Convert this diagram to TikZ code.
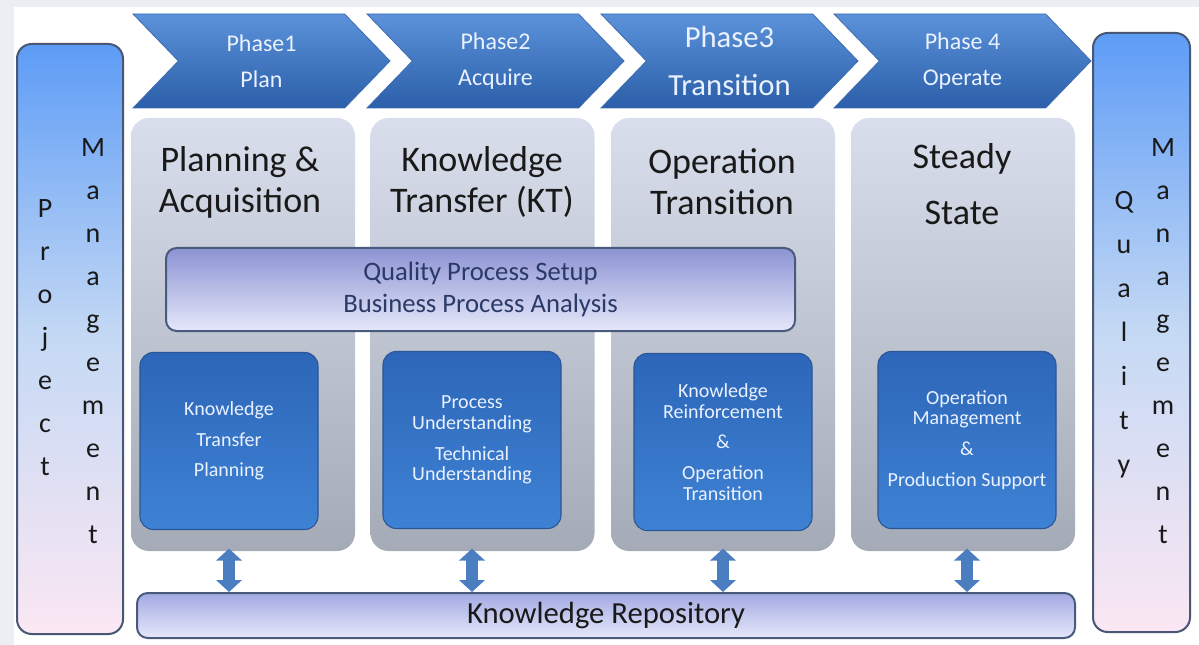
\documentclass[tikz,border=0pt]{standalone}
\usepackage{fontspec}
\setmainfont{Carlito}
\usetikzlibrary{shapes.symbols,arrows.meta}
\definecolor{bgGray}{HTML}{EDEDF4}
\definecolor{phaseTop}{HTML}{5B92DA}
\definecolor{phaseBot}{HTML}{2B5FA9}
\definecolor{phaseLine}{HTML}{3C6CB0}
\definecolor{phaseText}{HTML}{EAF1FF}
\definecolor{barTop}{HTML}{5D9CF6}
\definecolor{barMid}{HTML}{C5D9F4}
\definecolor{barBot}{HTML}{FBE7F3}
\definecolor{barLine}{HTML}{4A5774}
\definecolor{panelTop}{HTML}{D8DEEB}
\definecolor{panelBot}{HTML}{A4AAB6}
\definecolor{qualTop}{HTML}{8C93D3}
\definecolor{qualBot}{HTML}{E5E8FA}
\definecolor{qualLine}{HTML}{4A5A7C}
\definecolor{qualText}{HTML}{2B3A66}
\definecolor{blueTop}{HTML}{2D66B8}
\definecolor{blueBot}{HTML}{3E82D4}
\definecolor{blueLine}{HTML}{2A5596}
\definecolor{arrowBlue}{HTML}{4A7EC1}
\definecolor{repoTop}{HTML}{A3A9E3}
\definecolor{repoBot}{HTML}{E6E9F9}
\begin{document}
\begin{tikzpicture}[x=0.75pt,y=0.75pt,yscale=-1,xscale=1,
  phasebox/.style={signal, signal from=west, signal to=east, signal pointer angle=92,
    minimum width=192.75pt, minimum height=70.5pt, inner sep=0pt,
    top color=phaseTop, bottom color=phaseBot, draw=phaseLine, line width=0.6pt,
    text=phaseText, align=center, font=\fontsize{18}{27}\selectfont},
  mgmtbar/.style={rounded corners=11pt, draw=barLine, line width=1.5pt,
    top color=barTop, bottom color=barBot, middle color=barMid},
  vletters/.style={align=center, text=black!90, font=\fontsize{21}{32.25}\selectfont},
  panel/.style={rounded corners=13.5pt, minimum width=168pt, minimum height=324.75pt,
    top color=panelTop, bottom color=panelBot},
  paneltitle/.style={align=center, text=black!90, font=\fontsize{27}{30.75}\selectfont},
  bluebox/.style={rounded corners=10pt, minimum width=133.5pt, minimum height=132.75pt,
    top color=blueTop, bottom color=blueBot, draw=blueLine, line width=0.8pt,
    text=phaseText, align=center, font=\fontsize{15}{15.5}\selectfont},
  lavbar/.style={rounded corners=8pt, draw=qualLine, line width=1.5pt,
    top color=#1, bottom color=qualBot},
  kbarrow/.style={line width=9pt, color=arrowBlue,
    {Triangle[width=19pt,length=9pt]}-{Triangle[width=19pt,length=9pt]}}
]
%uncomment if require: \path (0,645); %set diagram left start at 0, and has height of 645
\useasboundingbox (0,0) rectangle (1199,645);
% Background
\fill[bgGray] (0,0) rectangle (1199,645);
\fill[white] (14,7) rectangle (1199,645);

% Side bars
\node[mgmtbar, minimum width=79.5pt, minimum height=442.5pt] (pm) at (70,339) {};
\node[vletters] (pmp) at (45,338) {P\\r\\o\\j\\e\\c\\t};
\node[vletters] (pmm) at (93,341) {M\\a\\n\\a\\g\\e\\m\\e\\n\\t};
\node[mgmtbar, minimum width=72.75pt, minimum height=449.25pt] (qm) at (1141.5,332.5) {};
\node[vletters, font=\fontsize{21}{33}\selectfont] (qmq) at (1124,335) {Q\\u\\a\\l\\i\\t\\y};
\node[vletters] (qmm) at (1163,341) {M\\a\\n\\a\\g\\e\\m\\e\\n\\t};

% Phase chevrons
\node[phasebox] (ph1) at (261.5,61) {Phase1\\Plan};
\node[phasebox] (ph2) at (495.5,61) {Phase2\\Acquire};
\node[phasebox, font=\fontsize{23}{36}\selectfont] (ph3) at (729.5,61) {Phase3\\Transition};
\node[phasebox] (ph4) at (962.5,61) {Phase 4\\Operate};

% Column panels
\node[panel] (p1) at (243,334.5) {};
\node[panel] (p2) at (482.5,334.5) {};
\node[panel] (p3) at (723,334.5) {};
\node[panel] (p4) at (963,334.5) {};
% Text Node
\node[paneltitle] (t1) at (240,182) {Planning \&\\Acquisition};
\node[paneltitle] (t2) at (482,182) {Knowledge\\Transfer (KT)};
\node[paneltitle] (t3) at (722,182) {Operation\\Transition};
\node[paneltitle, font=\fontsize{27}{42}\selectfont] (t4) at (962,184) {Steady\\State};

% Quality box
\node[lavbar=qualTop, minimum width=471.75pt, minimum height=62.25pt,
  text=qualText, align=center, font=\fontsize{20}{24}\selectfont] (qps) at (480.5,289.5)
  {Quality Process Setup\\Business Process Analysis};

% Blue boxes
\node[bluebox] (b1) at (229,441) {Knowledge\\[7.5pt]Transfer\\[7.5pt]Planning};
\node[bluebox] (b2) at (472,440) {Process\\Understanding\\[7.5pt]Technical\\Understanding};
\node[bluebox] (b3) at (723,442) {Knowledge\\Reinforcement\\[7.5pt]\&\\[7.5pt]Operation\\Transition};
\node[bluebox] (b4) at (967,440) {Operation\\Management\\[7.5pt]\&\\[7.5pt]Production Support};

% Knowledge repository
\node[lavbar=repoTop, minimum width=703.5pt, minimum height=33.75pt,
  text=black!90, font=\fontsize{23}{28}\selectfont] (repo) at (606,615.5) {Knowledge Repository};

% Double arrows
\draw[kbarrow] ([yshift=-2pt]b1.south |- p1.south) -- (b1.south |- repo.north);
\draw[kbarrow] ([yshift=-2pt]b2.south |- p2.south) -- (b2.south |- repo.north);
\draw[kbarrow] ([yshift=-2pt]b3.south |- p3.south) -- (b3.south |- repo.north);
\draw[kbarrow] ([yshift=-2pt]b4.south |- p4.south) -- (b4.south |- repo.north);
\end{tikzpicture}
\end{document}
